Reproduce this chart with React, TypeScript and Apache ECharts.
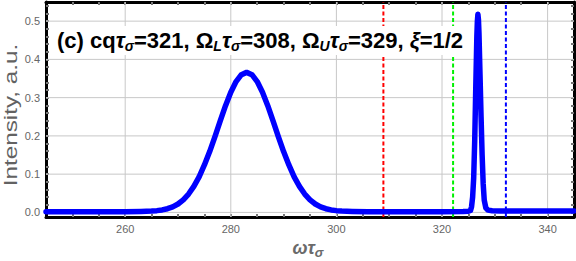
import React, { useEffect, useRef } from 'react';
import * as echarts from 'echarts';

// ---- data ----
const omegaTau = [
  245, 250, 255, 260, 263, 265, 266, 267, 268, 269, 270, 271, 272, 273, 274, 275, 276, 277, 278, 279,
  280, 281, 282, 283, 284, 285, 286, 287, 288, 289, 290, 291, 292, 293, 294, 295, 296, 297, 298, 299,
  300, 301, 303, 306, 310, 315, 320, 324, 325, 325.4, 325.6, 325.8, 326.0, 326.2, 326.4, 326.6, 326.7,
  326.8, 326.9, 327.0, 327.2, 327.4, 327.6, 327.8, 328.0, 328.3, 328.7, 329.5, 331, 335, 340, 345,
];
const intensity = [
  0.002, 0.002, 0.002, 0.002, 0.0025, 0.0034, 0.0046, 0.0065, 0.0097, 0.0146, 0.022, 0.033, 0.048, 0.068, 0.093, 0.124, 0.159, 0.198, 0.239, 0.279,
  0.314, 0.342, 0.36, 0.366, 0.36, 0.342, 0.314, 0.279, 0.239, 0.198, 0.159, 0.124, 0.093, 0.068, 0.048, 0.033, 0.022, 0.0146, 0.0097, 0.0065,
  0.0046, 0.0034, 0.0025, 0.002, 0.002, 0.002, 0.002, 0.0025, 0.003, 0.005, 0.015, 0.04, 0.09, 0.19, 0.33, 0.46, 0.5,
  0.518, 0.505, 0.47, 0.36, 0.25, 0.15, 0.075, 0.032, 0.012, 0.006, 0.0045, 0.004, 0.004, 0.004, 0.004,
];
const markerPositions = [308.9, 322.1, 332.1];
const markerColors = ['#ff0000', '#00f000', '#0000ff'];
const xTickLabels = [260, 280, 300, 320, 340];
const xMinorTicks = [250, 255, 260, 265, 270, 275, 280, 285, 290, 295, 300, 305, 310, 315, 320, 325, 330, 335, 340];
const yTickLabels = [0, 0.1, 0.2, 0.3, 0.4, 0.5];
const yMinorTicks = [0, 0.02, 0.04, 0.06, 0.08, 0.1, 0.12, 0.14, 0.16, 0.18, 0.2, 0.22, 0.24, 0.26, 0.28, 0.3, 0.32, 0.34, 0.36, 0.38, 0.4, 0.42, 0.44, 0.46, 0.48, 0.5, 0.52, 0.54];
const X_MIN = 245;
const X_MAX = 345;
const Y_MIN = -0.012;
const Y_MAX = 0.55;

const FONT = 'Liberation Sans, Arial, sans-serif';

function frameX(position: string, showLabels: boolean) {
  return {
    type: 'value', position, min: X_MIN, max: X_MAX,
    axisLine: { show: true, onZero: false, lineStyle: { color: '#000', width: 3 } },
    axisTick: { show: true, inside: true, length: 3, customValues: xMinorTicks, lineStyle: { color: '#777', width: 2 } },
    axisLabel: {
      show: showLabels, customValues: xTickLabels, color: '#666', fontSize: 11, fontFamily: FONT, margin: 6,
      formatter: (v: number) => String(v),
    },
    splitLine: { show: false },
  };
}
function frameY(position: string, showLabels: boolean) {
  return {
    type: 'value', position, min: Y_MIN, max: Y_MAX,
    axisLine: { show: true, onZero: false, lineStyle: { color: '#000', width: 3 } },
    axisTick: { show: true, inside: true, length: 3, customValues: yMinorTicks, lineStyle: { color: '#777', width: 2 } },
    axisLabel: {
      show: showLabels, customValues: yTickLabels, color: '#666', fontSize: 11, fontFamily: FONT, margin: 6,
      formatter: (v: number) => v.toFixed(1),
    },
    splitLine: { show: false },
  };
}

export default function App() {
  const ref = useRef<HTMLDivElement>(null);
  useEffect(() => {
    if (!ref.current) return;
    const chart = echarts.init(ref.current, null, { renderer: 'svg' });
    const curve = omegaTau.map((x, i) => [x, intensity[i]]);
    const markers = markerPositions.map((x, i) => ({
      type: 'line', xAxisIndex: 0, yAxisIndex: 0, silent: true, symbol: 'none', z: 1,
      data: [[x, Y_MIN], [x, Y_MAX]],
      lineStyle: { color: markerColors[i], width: 2, type: [4, 2.5] },
    }));
    // grid lines: invisible series drawn through the axes' scales
    const vGrid = xTickLabels.map((x) => ({
      type: 'line', xAxisIndex: 0, yAxisIndex: 0, silent: true, symbol: 'none', z: 0,
      data: [[x, Y_MIN], [x, Y_MAX]],
      lineStyle: { color: '#c8c8c8', width: 1 },
    }));
    const hGrid = yTickLabels.map((y) => ({
      type: 'line', xAxisIndex: 0, yAxisIndex: 0, silent: true, symbol: 'none', z: 0,
      data: [[X_MIN, y], [X_MAX, y]],
      lineStyle: { color: '#c8c8c8', width: 1 },
    }));
    chart.setOption({
      animation: false,
      backgroundColor: '#fff',
      grid: { left: 46, right: 2, top: 2, bottom: 44, containLabel: false },
      xAxis: [frameX('bottom', true), frameX('top', false)],
      yAxis: [frameY('left', true), frameY('right', false)],
      series: [
        ...vGrid,
        ...hGrid,
        ...markers,
        {
          type: 'line', xAxisIndex: 0, yAxisIndex: 0, data: curve, symbol: 'none', showSymbol: false, z: 3,
          lineStyle: { color: '#0000ff', width: 5.5, cap: 'round', join: 'round' },
        },
      ],
      graphic: [
        { type: 'rect', z: 2, silent: true, shape: { x: 52, y: 26, width: 423, height: 29 }, style: { fill: '#fff' } },
        {
          type: 'text', z: 2, x: 57, y: 40, silent: true,
          style: {
            text: '(c) cq{it|τ}{sub|σ}=321, Ω{sub|L}{it|τ}{sub|σ}=308, Ω{sub|U}{it|τ}{sub|σ}=329, {it|ξ}=1/2',
            fontSize: 22, fontWeight: 'bold', fontFamily: FONT, fill: '#000', lineHeight: 26,
            verticalAlign: 'middle', align: 'left',
            rich: {
              it: { fontSize: 22, fontWeight: 'bold', fontStyle: 'italic', fontFamily: FONT, fill: '#000', lineHeight: 26 },
              sub: { fontSize: 14, fontWeight: 'bold', fontStyle: 'italic', fontFamily: FONT, fill: '#000', lineHeight: 15, verticalAlign: 'bottom' },
            },
          },
        },
        {
          type: 'text', z: 2, x: 11, y: 115, rotation: Math.PI / 2, scaleX: 1.35, silent: true,
          style: { text: 'Intensity, a.u.', fontSize: 18, fontFamily: FONT, fill: '#626262', align: 'center', verticalAlign: 'middle' },
        },
        {
          type: 'text', z: 2, x: 308, y: 248, silent: true,
          style: {
            text: '{w|ωτ}{s|σ}', align: 'center', verticalAlign: 'middle',
            rich: {
              w: { fontSize: 18, fontWeight: 'bold', fontStyle: 'italic', fontFamily: FONT, fill: '#6a6a6a', lineHeight: 22 },
              s: { fontSize: 13, fontWeight: 'bold', fontStyle: 'italic', fontFamily: FONT, fill: '#6a6a6a', lineHeight: 12, verticalAlign: 'bottom' },
            },
          },
        },
      ],
    });
    return () => chart.dispose();
  }, []);
  return <div ref={ref} style={{ position: 'fixed', left: 0, top: 0, width: 576, height: 261 }} />;
}
